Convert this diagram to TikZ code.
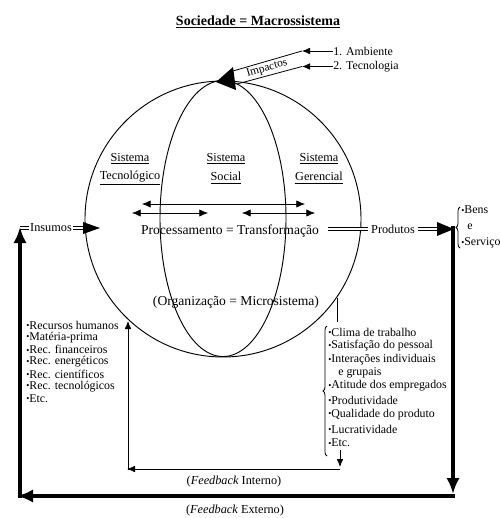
\documentclass[tikz,border=0pt]{standalone}
\usepackage{fontspec}
\setmainfont{Liberation Serif}
\usepackage{graphicx}
\usetikzlibrary{arrows.meta,decorations.pathreplacing}
\newcommand{\bul}{\raisebox{0.12ex}{\scalebox{0.75}{\textbullet}}}
\begin{document}
\begin{tikzpicture}[x=0.75pt,y=-0.75pt,
  ttl/.style={font=\bfseries\fontsize{10.5}{12}\selectfont, inner sep=0pt},
  txt/.style={font=\fontsize{10.2}{12}\selectfont, inner sep=0pt},
  lbl/.style={font=\fontsize{9.2}{11}\selectfont, inner sep=0pt},
  lst/.style={font=\fontsize{8.9}{10}\selectfont, inner sep=0pt, anchor=west},
  thickarrow/.style={line width=3.5pt, -{Latex[length=12pt,width=10pt]}},
  thinarrow/.style={line width=0.6pt, -{Latex[length=6pt,width=5pt]}},
  dblarrow/.style={line width=0.6pt, {Latex[length=6.5pt,width=5.5pt]}-{Latex[length=6.5pt,width=5.5pt]}},
  dbl/.style={double, double distance=2pt, line width=0.5pt},
  brc/.style={decorate, decoration={brace, amplitude=3pt}, line width=0.6pt}]
\useasboundingbox (0,0) rectangle (500,518);

% title
\node[ttl] (title) at (258,22) {\underline{Sociedade = Macrossistema}};

% globe
\node[circle, draw, line width=0.7pt, minimum size=207pt, inner sep=0pt] (globe) at (223,219) {};
\draw[line width=0.7pt] (globe.north) arc[start angle=90, end angle=270, x radius=47.25pt, y radius=103.5pt];
\draw[line width=0.7pt] (globe.north) arc[start angle=90, end angle=-90, x radius=47.25pt, y radius=103.5pt];

% impactos band
\coordinate (b1) at (302,51);
\coordinate (b2) at (302,66.5);
\coordinate (a1) at (233,71);
\coordinate (a2) at (237,84);
\draw[line width=0.6pt] (a1) -- (b1);
\draw[line width=0.6pt] (a2) -- (b2);
\fill (216,82) -- (233,67) -- (236,90) -- cycle;
\node[font=\fontsize{8.6}{10}\selectfont, inner sep=0pt, rotate=16.3] (imp) at (267,68.5) {Impactos};
\node[lst] (amb) at (333,51) {1. Ambiente};
\node[lst] (tec) at (333,66.5) {2. Tecnologia};
\draw[thinarrow] (amb.west) -- (b1);
\draw[thinarrow] (tec.west) -- (b2);

% subsystem labels
\node[lbl] (s1a) at (130,159) {\underline{Sistema}};
\node[lbl] (s1b) at (130,178) {\underline{Tecnológico}};
\node[lbl] (s2a) at (226,159) {\underline{Sistema}};
\node[lbl] (s2b) at (226,178) {\underline{Social}};
\node[lbl] (s3a) at (319,159) {\underline{Sistema}};
\node[lbl] (s3b) at (319,178) {\underline{Gerencial}};

% inner arrows
\coordinate (l1) at (142,204); \coordinate (r1) at (305,204);
\coordinate (l2) at (132,213); \coordinate (r2) at (208,213);
\coordinate (l3) at (242,213); \coordinate (r3) at (315,213);
\draw[dblarrow] (l1) -- (r1);
\draw[dblarrow] (l2) -- (r2);
\draw[dblarrow] (l3) -- (r3);

\node[txt] (proc) at (230,231) {Processamento = Transformação};
\node[txt] (org) at (236,302) {(Organização = Microsistema)};

% insumos
\node[lbl, fill=white, inner xsep=1pt] (ins) at (51,228) {Insumos};
\coordinate (i0) at (20,228);
\coordinate (i1) at (86,228);
\draw[dbl] (i0) -- (ins.west);
\draw[dbl] (ins.east) -- (i1);
\fill (83,222) -- (100,228) -- (83,234) -- cycle;

% produtos
\node[lbl, inner xsep=2pt] (prod) at (393,229) {Produtos};
\coordinate (p0) at (328,229);
\coordinate (p1) at (440,229);
\draw[dbl] (p0) -- (prod.west);
\draw[dbl] (prod.east) -- (p1);
\fill (437,222) -- (454,229) -- (437,236) -- cycle;

% products list
\draw[brc] (460,248) -- (460,207);
\node[lst] (bens) at (461,210) {\bul Bens};
\node[lst] (e) at (467,227) {e};
\node[lst] (serv) at (461,243) {\bul Serviços};

% external feedback
\coordinate (tr) at (453,226);
\coordinate (br) at (453,494);
\coordinate (br2) at (455,496);
\coordinate (bl) at (17,496);
\coordinate (bl2) at (20,498);
\coordinate (tl) at (20,227);
\draw[thickarrow] (tr) -- (br);
\draw[thickarrow] (br2) -- (bl);
\draw[thickarrow] (bl2) -- (tl);
\node[lbl] (fext) at (235,511) {(\textit{Feedback} Externo)};

% left list
\node[lst] (L1) at (26,325) {\bul Recursos humanos};
\node[lst] (L2) at (26,337.3) {\bul Matéria-prima};
\node[lst] (L3) at (26,349.6) {\bul Rec. financeiros};
\node[lst] (L4) at (26,361.9) {\bul Rec. energéticos};
\node[lst] (L5) at (26,374.2) {\bul Rec. científicos};
\node[lst] (L6) at (26,386.5) {\bul Rec. tecnológicos};
\node[lst] (L7) at (26,398.8) {\bul Etc.};

% right list
\coordinate (g1) at (337,298);
\coordinate (g2) at (337,322);
\draw[line width=0.6pt] (g1) -- (g2);
\draw[brc] (327,456) -- (327,326);
\node[lst] (R1) at (328,332) {\bul Clima de trabalho};
\node[lst] (R2) at (328,346) {\bul Satisfação do pessoal};
\node[lst] (R3) at (328,360) {\bul Interações individuais};
\node[lst] (R3b) at (338,372.5) {e grupais};
\node[lst] (R4) at (328,386) {\bul Atitude dos empregados};
\node[lst] (R5) at (328,400) {\bul Produtividade};
\node[lst] (R6) at (328,414.5) {\bul Qualidade do produto};
\node[lst] (R7) at (328,429) {\bul Lucratividade};
\node[lst] (R8) at (328,443) {\bul Etc.};

% internal feedback
\coordinate (f0) at (340,450);
\coordinate (f1) at (340,467);
\coordinate (f2) at (340,469);
\coordinate (f3) at (127,469);
\coordinate (f4) at (128,470);
\coordinate (f5) at (128,321);
\draw[thinarrow] (f0) -- (f1);
\draw[thinarrow] (f2) -- (f3);
\draw[thinarrow] (f4) -- (f5);
\node[lbl] (fint) at (234,482) {(\textit{Feedback} Interno)};
\end{tikzpicture}
\end{document}
